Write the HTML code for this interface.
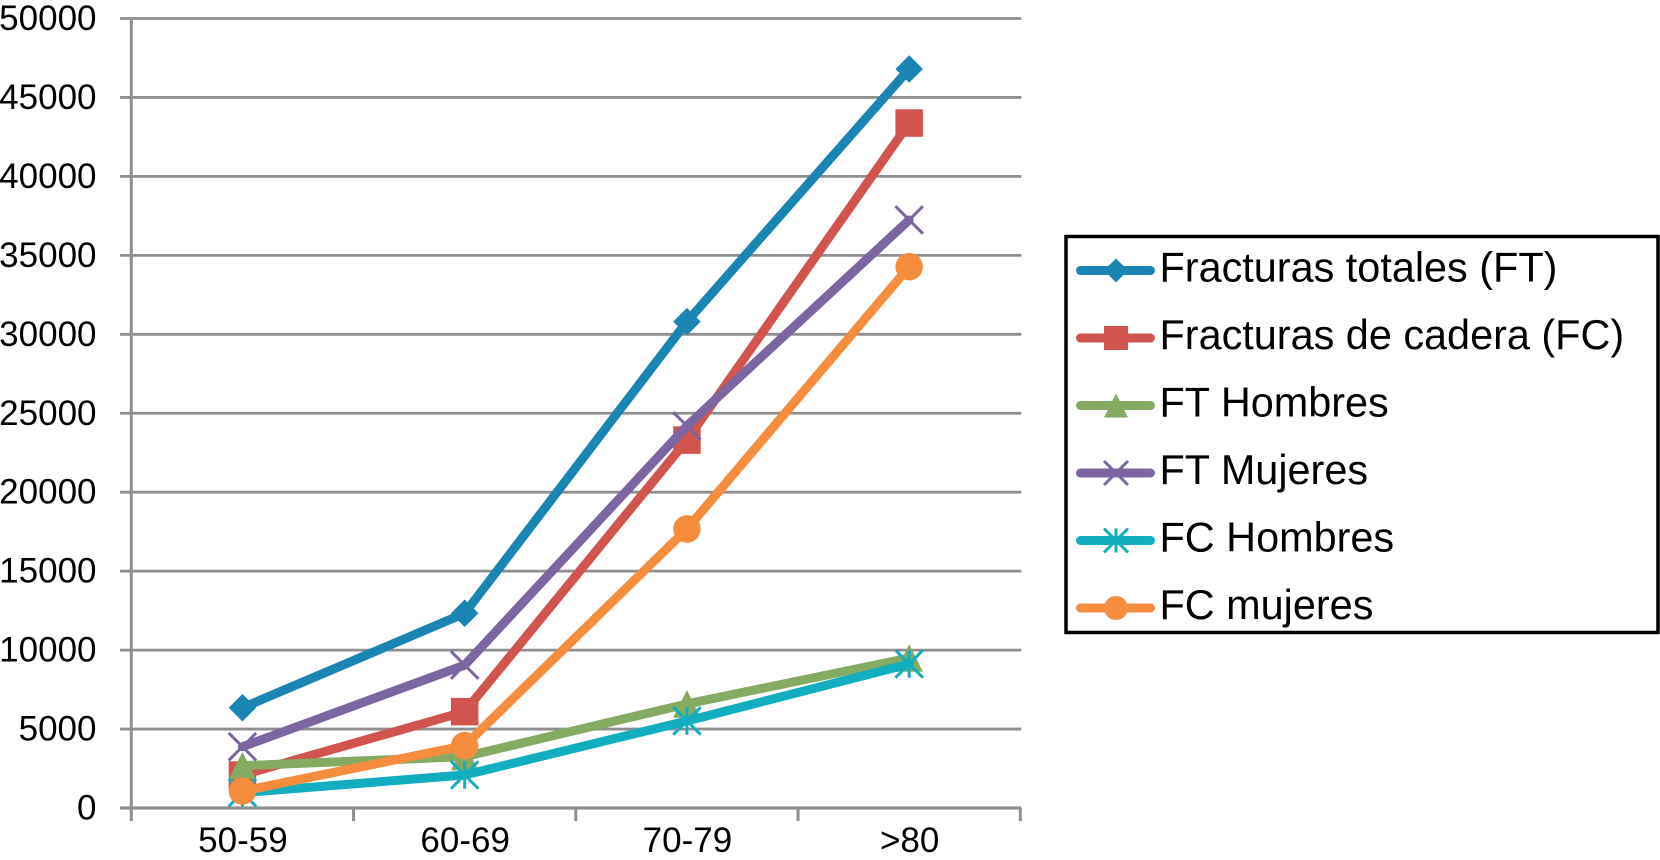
<!DOCTYPE html>
<html lang="es">
<head>
<meta charset="utf-8">
<title>Fracturas por edad</title>
<style>
html,body{margin:0;padding:0;background:#fff;}
#chart{display:block;width:1660px;height:860px;font-family:"Liberation Sans",Arial,sans-serif;}
</style>
</head>
<body>
<svg id="chart" xmlns="http://www.w3.org/2000/svg" width="1660" height="860" viewBox="0 0 1660 860"></svg>
<script>
const categories = ['50-59', '60-69', '70-79', '>80'];
const yTickValues = [0, 5000, 10000, 15000, 20000, 25000, 30000, 35000, 40000, 45000, 50000];
const fracturasTotales = [6350, 12330, 30800, 46800];
const fracturasCadera = [2090, 6100, 23300, 43380];
const ftHombres = [2680, 3250, 6590, 9500];
const ftMujeres = [3880, 9050, 24200, 37240];
const fcHombres = [970, 2090, 5510, 9120];
const fcMujeres = [1070, 3950, 17670, 34280];
const seriesNames = ['Fracturas totales (FT)', 'Fracturas de cadera (FC)', 'FT Hombres', 'FT Mujeres', 'FC Hombres', 'FC mujeres'];

const seriesValues = [fracturasTotales, fracturasCadera, ftHombres, ftMujeres, fcHombres, fcMujeres];
const seriesColors = ['#1a85b3', '#d2544f', '#85ab62', '#7c66a2', '#12aebf', '#f68c3e'];
const seriesMarkers = ['diamond', 'square', 'triangle', 'x', 'star', 'circle'];

const svg = document.getElementById('chart');
const NS = 'http://www.w3.org/2000/svg';
const plot = { left: 131.3, right: 1020.3, top: 18.5, bottom: 808, yMax: 50000 };
const axisColor = '#8f8f8f';

function xScale(i) {
  return plot.left + (plot.right - plot.left) / categories.length * (i + 0.5);
}
function xEdge(i) {
  return plot.left + (plot.right - plot.left) / categories.length * i;
}
function yScale(v) {
  return plot.bottom - v / plot.yMax * (plot.bottom - plot.top);
}
function make(tag, attrs, parent) {
  const el = document.createElementNS(NS, tag);
  for (const k in attrs) el.setAttribute(k, attrs[k]);
  parent.appendChild(el);
  return el;
}
function slug(s) {
  return s.toLowerCase().replace(/[^a-z0-9]+/g, '-').replace(/^-|-$/g, '');
}

function drawMarker(parent, type, cx, cy, size, color) {
  const h = size / 2;
  if (type === 'diamond') {
    make('polygon', { points: [cx, cy - h, cx + h, cy, cx, cy + h, cx - h, cy].join(' '), fill: color }, parent);
  } else if (type === 'square') {
    make('rect', { x: cx - h, y: cy - h, width: size, height: size, fill: color }, parent);
  } else if (type === 'triangle') {
    make('polygon', { points: [cx, cy - h, cx + h, cy + h, cx - h, cy + h].join(' '), fill: color }, parent);
  } else if (type === 'circle') {
    make('circle', { cx: cx, cy: cy, r: h, fill: color }, parent);
  } else {
    make('line', { x1: cx - h, y1: cy - h, x2: cx + h, y2: cy + h, stroke: color, 'stroke-width': 3 }, parent);
    make('line', { x1: cx - h, y1: cy + h, x2: cx + h, y2: cy - h, stroke: color, 'stroke-width': 3 }, parent);
    if (type === 'star') {
      make('line', { x1: cx, y1: cy - h, x2: cx, y2: cy + h, stroke: color, 'stroke-width': 3 }, parent);
    }
  }
}

/* gridlines and y-axis ticks */
const gridGroup = make('g', {}, svg);


yTickValues.forEach(function (v) {
  const gl = make('line', { x1: 120, x2: plot.right + 1, y1: yScale(v), y2: yScale(v), stroke: axisColor, 'stroke-width': v === 0 ? 3.2 : 2.8 }, gridGroup);
  
  
});

/* y axis */
const yAxisLine = make('line', { x1: plot.left, x2: plot.left, y1: plot.top - 1, y2: plot.bottom + 13, stroke: axisColor, 'stroke-width': 3 }, svg);



const yLabels = make('g', { 'font-size': 35, 'text-anchor': 'end', fill: '#000' }, svg);


yTickValues.forEach(function (v) {
  const t = make('text', { x: 96.5, y: yScale(v) + 11.5 }, yLabels);
  t.textContent = String(v);
  
  
});

/* x axis ticks and labels */
const xAxis = make('g', {}, svg);


for (let i = 1; i <= categories.length; i++) {
  const tk = make('line', { x1: xEdge(i), x2: xEdge(i), y1: plot.bottom, y2: plot.bottom + 13, stroke: axisColor, 'stroke-width': 3 }, xAxis);
  
  
}
categories.forEach(function (c, i) {
  const t = make('text', { x: xScale(i) + 0.5, y: 852, 'font-size': 35, 'text-anchor': 'middle', fill: '#000' }, xAxis);
  t.textContent = c;
  
  
});

/* series */
seriesValues.forEach(function (vals, s) {
  const g = make('g', {}, svg);
  
  
  const pts = vals.map(function (v, i) { return xScale(i) + ',' + yScale(v); }).join(' ');
  const line = make('polyline', { points: pts, fill: 'none', stroke: seriesColors[s], 'stroke-width': 9, 'stroke-linejoin': 'round', 'stroke-linecap': 'round' }, g);
  
  
  vals.forEach(function (v, i) {
    const m = make('g', {}, g);
    
    
    drawMarker(m, seriesMarkers[s], xScale(i), yScale(v), 27.5, seriesColors[s]);
  });
});

/* legend */
const legend = make('g', {}, svg);


const legendBox = make('rect', { x: 1066, y: 236.5, width: 592, height: 396, fill: '#fff', stroke: '#000', 'stroke-width': 3.5 }, legend);


seriesNames.forEach(function (name, s) {
  const rowY = 270.5 + s * 67.5;
  const row = make('g', {}, legend);
  
  
  make('line', { x1: 1080.5, x2: 1150.5, y1: rowY, y2: rowY, stroke: seriesColors[s], 'stroke-width': 9, 'stroke-linecap': 'round' }, row);
  drawMarker(row, seriesMarkers[s], 1116, rowY, 24, seriesColors[s]);
  const t = make('text', { x: 1159.5, y: rowY + 11, 'font-size': 41.4, fill: '#000' }, row);
  t.textContent = name;
  
  
});
</script>
</body>
</html>
